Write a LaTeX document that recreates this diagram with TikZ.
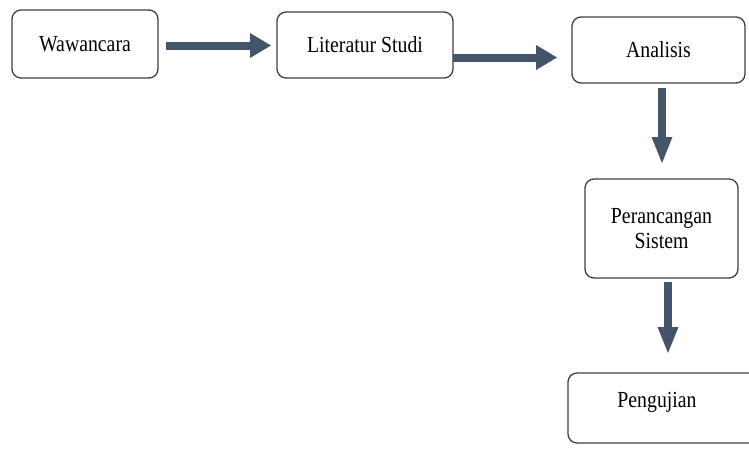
\documentclass[tikz,border=0pt]{standalone}
\usepackage{fontspec}
\setmainfont{Liberation Serif}
\usetikzlibrary{arrows.meta}
\definecolor{arr}{HTML}{44546A}
\definecolor{bord}{HTML}{3F3F3F}
\newcommand{\nt}[1]{\scalebox{0.86}[1]{#1}}
\begin{document}
\begin{tikzpicture}[x=1pt,y=-1pt,
  box/.style={draw=bord, line width=1.3pt, rounded corners=9pt, fill=white,
    inner sep=0pt, align=center, font=\rmfamily\fontsize{23}{25}\selectfont},
  hflow/.style={draw=arr, line width=8pt, -{Triangle[length=21pt,width=25pt,line width=0pt]}},
  vflow/.style={draw=arr, line width=8pt, -{Triangle[length=26pt,width=21pt,line width=0pt]}}]
\useasboundingbox (0,0) rectangle (749,448);
\clip (0,0) rectangle (749,448);
\node[box, minimum width=146pt, minimum height=68pt] (waw) at (85,44) {\nt{Wawancara}};
\node[box, minimum width=176pt, minimum height=66pt] (lit) at (365,45) {\nt{Literatur Studi}};
\node[box, minimum width=173pt, minimum height=66pt] (ana) at (658.5,50) {\nt{Analisis}};
\node[box, minimum width=153pt, minimum height=99pt] (per) at (661.5,228.5) {\nt{Perancangan}\\\nt{Sistem}};
\node[box, minimum width=202pt, minimum height=70pt] (pen) at (669,408) {};
\node[font=\rmfamily\fontsize{23}{25}\selectfont, inner sep=0pt] (pent) at (657,402) {\nt{Pengujian}};
\coordinate (a1s) at (166,45.5);
\coordinate (a1e) at (271,45.5);
\coordinate (a2s) at (453,57.5);
\coordinate (a2e) at (557,57.5);
\coordinate (a3s) at (662,88);
\coordinate (a3e) at (662,163);
\coordinate (a4s) at (668,282);
\coordinate (a4e) at (668,353);
\draw[hflow] (a1s) -- (a1e);
\draw[hflow] (a2s) -- (a2e);
\draw[vflow] (a3s) -- (a3e);
\draw[vflow] (a4s) -- (a4e);
\end{tikzpicture}
\end{document}
